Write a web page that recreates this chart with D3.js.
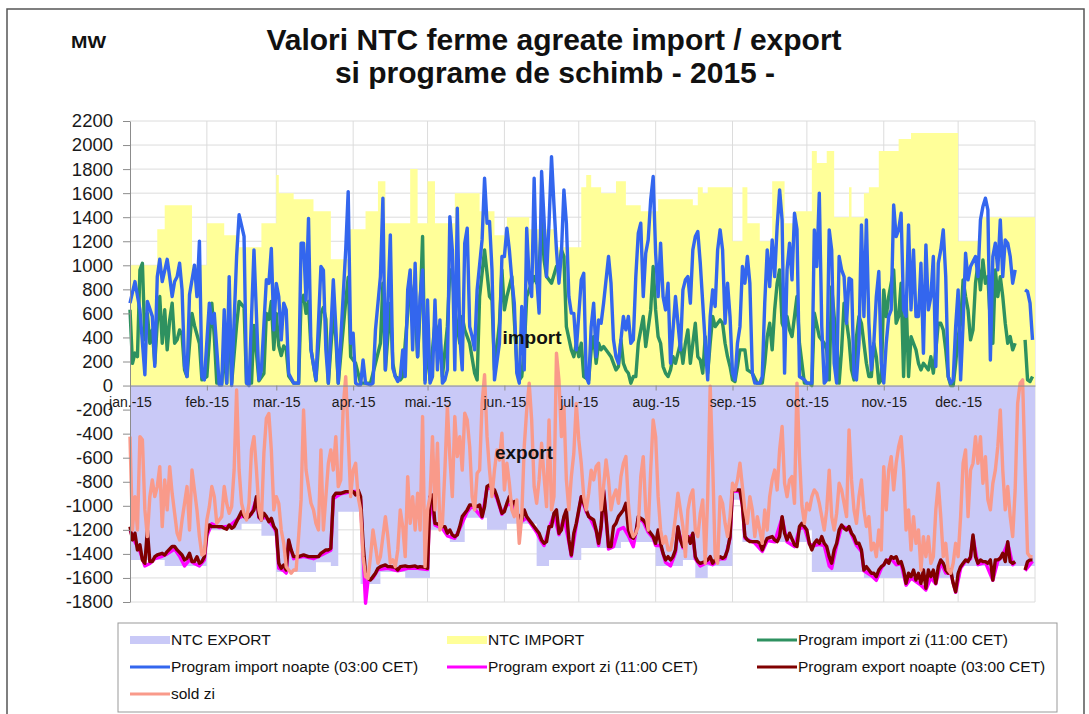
<!DOCTYPE html>
<html>
<head>
<meta charset="utf-8">
<script src="https://cdn.jsdelivr.net/npm/d3@7"></script>
<style>
body { margin: 0; background: #fff; }
text { font-family: "Liberation Sans", Arial, sans-serif; }
</style>
</head>
<body>
<div id="chart"></div>
<script>
// day index (0 = 1 jan 2015) and MW values

var monthLabels = ["jan.-15","feb.-15","mar.-15","apr.-15","mai.-15","jun.-15","jul.-15","aug.-15","sep.-15","oct.-15","nov.-15","dec.-15"];
var yTicks = d3.range(-1800, 2201, 200);

// NTC steps: [first day, MW], each value holds until the next step
var ntcImport = [[0,1000],[11,1300],[14,1500],[25,1000],[31,1350],[38,1250],[43,1150],[53,1350],[59,1750],[60,1600],[66,1550],[74,1450],[81,1050],[88,1300],[95,1450],[100,1700],[103,1350],[113,1800],[116,1350],[120,1700],[123,1350],[131,1600],[141,1450],[147,1250],[152,1400],[161,1300],[172,1150],[182,1650],[184,1750],[186,1650],[190,1600],[196,1700],[200,1500],[206,1450],[213,1550],[227,1500],[229,1650],[231,1600],[233,1650],[243,1200],[247,1650],[249,1350],[254,1200],[259,1700],[264,1350],[268,1450],[275,1950],[277,1850],[281,1950],[284,1400],[290,1650],[291,1400],[296,1600],[298,1650],[302,1950],[310,2050],[315,2100],[334,1200],[343,1400]];
var ntcExport = [[0,-1450],[14,-1500],[31,-1200],[45,-1150],[53,-1250],[59,-1550],[75,-1470],[81,-1500],[84,-1050],[93,-1650],[101,-1550],[111,-1600],[121,-1200],[129,-1300],[135,-1100],[144,-1200],[152,-1150],[164,-1500],[169,-1450],[182,-1350],[198,-1300],[212,-1500],[223,-1450],[228,-1600],[233,-1500],[243,-950],[247,-1300],[273,-1200],[275,-1550],[296,-1600],[335,-1500]];

// Program import zi (11:00 CET)
var importZi = [[0,630],[1,185],[2,270],[3,240],[4,960],[5,1017],[6,380],[7,600],[8,352],[9,463],[10,185],[11,518],[12,740],[13,352],[14,630],[15,297],[16,546],[17,685],[18,352],[19,380],[20,463],[21,420],[22,130],[23,75],[25,600],[26,500],[28,350],[29,47],[31,75],[33,685],[34,407],[35,20],[37,20],[38,300],[39,20],[40,600],[41,20],[43,500],[44,700],[46,650],[47,20],[49,20],[50,500],[52,40],[54,100],[55,600],[56,550],[57,700],[58,300],[59,600],[60,330],[61,250],[62,330],[63,300],[64,80],[66,20],[68,20],[69,700],[70,750],[71,600],[72,700],[73,300],[75,40],[77,600],[78,650],[79,550],[80,20],[82,600],[83,400],[84,20],[85,250],[87,700],[88,900],[89,240],[91,185],[93,20],[97,20],[99,185],[101,352],[102,851],[103,130],[105,685],[106,185],[107,75],[109,47],[110,75],[111,352],[113,851],[114,740],[115,629],[116,240],[117,629],[118,1239],[119,47],[120,352],[121,47],[122,297],[123,518],[125,407],[126,75],[128,490],[129,962],[130,962],[131,629],[133,352],[134,574],[135,463],[137,352],[139,103],[140,47],[141,740],[143,1128],[144,934],[145,740],[146,712],[147,130],[149,518],[150,962],[151,629],[152,740],[154,906],[156,185],[157,47],[158,75],[159,297],[160,740],[161,796],[163,906],[164,851],[165,962],[166,1378],[167,1045],[168,906],[170,851],[172,990],[173,962],[174,1128],[175,1073],[176,490],[178,297],[179,240],[180,352],[181,240],[182,352],[183,75],[185,47],[186,297],[187,407],[188,185],[189,352],[190,297],[191,324],[193,269],[194,240],[195,185],[196,130],[197,158],[198,380],[199,185],[200,130],[201,103],[202,20],[203,75],[204,75],[205,352],[207,574],[208,324],[210,629],[211,990],[212,629],[213,407],[214,352],[215,158],[216,103],[217,75],[218,130],[219,240],[220,185],[222,352],[223,185],[224,352],[225,463],[226,185],[227,352],[228,518],[229,240],[230,213],[231,103],[232,407],[233,103],[234,352],[235,574],[236,490],[237,518],[238,546],[239,518],[240,352],[241,240],[242,158],[243,47],[244,33],[245,158],[246,297],[248,297],[249,130],[251,103],[253,20],[255,20],[256,185],[257,407],[258,518],[259,297],[260,629],[261,851],[262,962],[263,518],[264,463],[265,574],[266,463],[267,407],[269,740],[270,352],[272,20],[274,20],[275,0],[276,602],[278,407],[280,352],[281,297],[282,47],[283,823],[284,574],[285,352],[286,20],[287,297],[288,685],[290,380],[291,130],[292,47],[293,407],[294,574],[295,518],[296,352],[297,185],[298,75],[299,75],[300,352],[301,240],[302,20],[303,47],[304,796],[305,574],[306,740],[308,962],[309,518],[310,574],[311,851],[312,75],[313,740],[314,75],[315,407],[316,352],[317,297],[318,185],[319,130],[320,185],[321,158],[322,130],[323,240],[324,103],[325,297],[326,518],[327,518],[328,463],[329,297],[330,75],[331,0],[332,0],[333,185],[334,407],[335,518],[336,879],[337,740],[338,629],[339,380],[340,463],[341,851],[342,1017],[343,796],[344,1045],[345,851],[346,906],[347,518],[348,352],[349,962],[350,740],[351,906],[352,740],[353,518],[354,352],[355,407],[356,297],[357,352],[358,null],[361,380],[362,47],[363,33],[364,75]];

// Program import noapte (03:00 CET)
var importNoapte = [[0,685],[2,865],[4,630],[6,90],[7,700],[9,575],[10,160],[11,905],[12,1050],[13,865],[15,1050],[16,905],[17,740],[18,865],[19,905],[20,1017],[21,796],[22,160],[23,75],[24,755],[26,1000],[27,740],[28,1200],[29,75],[30,47],[32,685],[33,518],[34,600],[36,5],[37,5],[38,630],[39,20],[40,906],[41,0],[43,1073],[44,1420],[46,1240],[47,20],[48,0],[50,1128],[52,47],[53,130],[55,880],[56,850],[57,1140],[58,463],[59,850],[60,740],[61,380],[62,685],[63,630],[64,100],[66,20],[68,20],[69,1184],[70,1184],[71,710],[72,1390],[73,297],[75,47],[77,990],[78,960],[79,297],[80,20],[82,880],[83,490],[84,20],[85,380],[87,1128],[88,1613],[89,352],[90,435],[91,20],[92,5],[93,5],[94,213],[95,20],[97,5],[98,20],[99,463],[101,906],[102,1558],[103,130],[105,1253],[106,144],[107,75],[108,33],[109,75],[110,297],[111,75],[112,796],[113,962],[114,297],[115,1017],[116,240],[117,740],[118,962],[119,20],[120,712],[121,20],[122,75],[123,712],[124,130],[125,546],[126,20],[127,47],[128,130],[129,1405],[130,1128],[131,130],[132,1475],[133,407],[134,130],[135,1184],[136,1308],[137,490],[138,407],[139,297],[140,796],[142,1211],[143,1724],[144,1350],[145,1364],[146,962],[147,47],[149,352],[150,1073],[151,1073],[152,1308],[153,1128],[154,879],[155,685],[156,103],[157,20],[158,657],[159,130],[160,1308],[161,879],[162,740],[163,1724],[164,906],[165,602],[166,1780],[167,1378],[168,906],[169,1350],[170,1904],[171,1500],[172,1128],[173,851],[174,1100],[175,1627],[176,1350],[177,740],[178,602],[179,600],[180,297],[182,879],[183,934],[184,75],[185,20],[186,490],[187,685],[188,240],[189,546],[190,518],[191,685],[193,1073],[194,851],[195,380],[196,240],[197,185],[198,380],[199,574],[200,463],[201,574],[202,352],[203,380],[204,906],[205,1267],[206,1350],[207,740],[208,1100],[209,1211],[210,1544],[211,1738],[212,1100],[213,740],[214,1184],[215,740],[216,629],[217,851],[218,185],[220,740],[222,297],[223,796],[224,879],[225,906],[226,685],[227,1128],[228,1239],[229,1280],[230,1017],[231,685],[232,352],[233,47],[234,574],[235,796],[236,657],[237,1128],[238,1295],[239,1128],[240,518],[241,851],[242,574],[243,103],[244,47],[245,352],[246,490],[247,990],[248,851],[249,1073],[250,851],[251,103],[252,20],[254,20],[255,75],[256,685],[257,1128],[258,823],[259,1211],[260,906],[261,1322],[262,1627],[263,1378],[264,103],[265,962],[266,1184],[267,879],[268,1433],[269,1300],[270,75],[272,47],[273,20],[275,20],[276,1295],[277,990],[278,1600],[279,490],[280,20],[281,47],[282,1295],[283,1128],[284,185],[285,20],[286,1073],[287,962],[288,906],[289,518],[290,893],[291,879],[292,75],[293,47],[294,352],[295,1336],[296,574],[297,1378],[298,518],[299,130],[300,352],[301,740],[302,948],[303,185],[304,20],[305,352],[306,574],[307,629],[308,1502],[309,1239],[310,1295],[311,1433],[312,629],[313,574],[314,1336],[315,629],[316,1128],[317,574],[318,574],[319,1017],[320,269],[321,1170],[322,629],[323,740],[324,1073],[325,158],[326,1017],[327,1128],[328,1295],[329,906],[330,75],[331,20],[332,47],[333,490],[334,796],[335,47],[336,518],[337,1100],[338,879],[339,990],[341,1073],[342,906],[343,1378],[344,1489],[345,1558],[346,1461],[347,213],[348,1073],[349,1184],[350,962],[351,1378],[352,906],[353,1211],[354,1184],[355,1073],[356,851],[357,962],[358,null],[361,796],[362,782],[363,685],[364,380]];

// Program export zi (11:00 CET)
var exportZi = [[0,-1200],[2,-1300],[4,-1380],[6,-1500],[8,-1480],[10,-1440],[13,-1420],[15,-1400],[18,-1360],[20,-1420],[22,-1500],[24,-1450],[26,-1480],[28,-1500],[30,-1450],[31,-1250],[33,-1150],[36,-1180],[40,-1170],[44,-1100],[46,-1080],[49,-1070],[51,-940],[52,-1100],[55,-1100],[58,-1180],[59,-1220],[60,-1520],[62,-1540],[63,-1560],[64,-1300],[66,-1440],[70,-1420],[74,-1440],[77,-1410],[80,-1380],[81,-1370],[82,-940],[85,-900],[90,-880],[92,-880],[93,-950],[94,-1400],[95,-1810],[96,-1620],[98,-1600],[100,-1530],[104,-1520],[108,-1540],[112,-1520],[116,-1520],[120,-1530],[121,-930],[123,-1160],[126,-1190],[128,-1250],[131,-1270],[133,-1190],[136,-1050],[138,-1000],[142,-1100],[144,-850],[146,-860],[148,-940],[150,-1070],[152,-990],[154,-990],[156,-1070],[158,-1130],[160,-1100],[162,-1160],[164,-1220],[166,-1300],[167,-1330],[169,-1190],[171,-1070],[173,-1240],[175,-1100],[177,-1300],[178,-1420],[180,-1160],[182,-930],[184,-1050],[186,-1120],[188,-1210],[189,-1330],[190,-1190],[191,-880],[192,-1100],[193,-1360],[195,-1340],[197,-1200],[199,-1180],[201,-1250],[203,-1340],[205,-1110],[207,-1130],[209,-1220],[211,-1270],[212,-1330],[214,-1330],[216,-1470],[218,-1500],[220,-1390],[221,-1190],[223,-1350],[225,-1270],[227,-1240],[228,-1440],[230,-1500],[233,-1470],[235,-1490],[238,-1440],[240,-1440],[242,-1270],[243,-880],[246,-880],[247,-1000],[248,-1270],[252,-1310],[255,-1380],[257,-1290],[260,-1300],[263,-1100],[265,-1300],[268,-1340],[270,-1190],[272,-1180],[274,-1320],[276,-1330],[278,-1320],[280,-1330],[282,-1500],[283,-1520],[285,-1330],[287,-1170],[290,-1190],[293,-1330],[295,-1380],[296,-1540],[299,-1580],[301,-1620],[303,-1520],[305,-1460],[307,-1440],[309,-1490],[311,-1480],[313,-1660],[315,-1600],[317,-1630],[319,-1660],[321,-1700],[323,-1600],[325,-1650],[327,-1470],[329,-1560],[331,-1560],[333,-1720],[335,-1520],[337,-1460],[339,-1440],[340,-1260],[342,-1490],[345,-1470],[348,-1620],[350,-1460],[352,-1410],[354,-1310],[356,-1490],[357,-1470],[358,null],[361,-1540],[364,-1460]];

// Program export noapte (03:00 CET)
var exportNoapte = [[0,-1173],[1,-1284],[2,-1228],[3,-1367],[4,-1325],[5,-1450],[6,-1478],[7,-1201],[8,-1464],[9,-1464],[10,-1423],[11,-1409],[13,-1395],[14,-1409],[15,-1381],[17,-1339],[18,-1339],[19,-1367],[21,-1409],[22,-1450],[23,-1437],[24,-1395],[25,-1464],[26,-1464],[27,-1423],[28,-1478],[29,-1464],[30,-1423],[31,-1228],[32,-1159],[33,-1173],[35,-1173],[37,-1173],[38,-1187],[39,-1195],[40,-1159],[41,-1187],[42,-1173],[44,-1090],[45,-1048],[46,-1090],[47,-1104],[48,-1090],[49,-1062],[50,-1034],[51,-924],[52,-1090],[53,-1118],[54,-1062],[55,-1090],[56,-1132],[57,-1104],[58,-1173],[59,-1201],[60,-1478],[61,-1520],[62,-1492],[63,-1534],[64,-1284],[65,-1367],[66,-1423],[68,-1423],[70,-1409],[72,-1423],[74,-1423],[76,-1423],[77,-1395],[79,-1367],[80,-1367],[81,-1353],[82,-924],[83,-896],[85,-896],[87,-882],[90,-882],[91,-910],[92,-868],[93,-924],[94,-1312],[95,-1561],[96,-1603],[97,-1617],[98,-1589],[99,-1561],[100,-1520],[101,-1506],[103,-1492],[104,-1506],[105,-1506],[107,-1511],[108,-1534],[109,-1506],[111,-1500],[112,-1506],[113,-1506],[115,-1500],[116,-1511],[117,-1506],[119,-1511],[120,-1520],[121,-924],[122,-910],[123,-1146],[124,-1151],[125,-1159],[126,-1173],[127,-1173],[128,-1228],[129,-1201],[130,-1242],[131,-1256],[132,-1242],[133,-1173],[134,-1090],[136,-1034],[137,-993],[138,-993],[140,-1007],[141,-993],[142,-1090],[143,-1007],[144,-840],[145,-827],[146,-854],[147,-868],[148,-924],[150,-1062],[151,-1048],[152,-979],[153,-924],[154,-979],[155,-965],[156,-1062],[157,-1090],[158,-1118],[159,-1034],[160,-1090],[161,-1118],[162,-1146],[164,-1201],[165,-1228],[166,-1284],[167,-1312],[168,-1298],[169,-1173],[170,-1173],[171,-1062],[172,-1034],[173,-1228],[174,-1201],[175,-1090],[176,-1034],[177,-1284],[178,-1409],[179,-1228],[180,-1146],[181,-1034],[182,-924],[183,-979],[184,-1034],[185,-1090],[187,-1118],[188,-1201],[189,-1312],[190,-1173],[191,-868],[192,-1090],[193,-1339],[194,-1339],[195,-1173],[196,-1146],[197,-1090],[199,-1034],[200,-979],[201,-1201],[202,-1256],[203,-1270],[204,-1228],[205,-1090],[207,-1118],[208,-1146],[209,-1201],[211,-1256],[212,-1312],[213,-1201],[214,-1312],[215,-1395],[216,-1450],[217,-1423],[218,-1450],[219,-1423],[220,-1367],[221,-1173],[222,-1284],[223,-1339],[225,-1256],[226,-1312],[227,-1228],[228,-1423],[229,-1464],[230,-1478],[232,-1464],[233,-1450],[234,-1423],[235,-1478],[236,-1450],[237,-1436],[238,-1423],[239,-1436],[240,-1423],[241,-1367],[242,-1256],[243,-868],[245,-868],[246,-868],[247,-993],[248,-1256],[249,-1284],[250,-1298],[252,-1298],[253,-1298],[254,-1312],[255,-1367],[256,-1312],[257,-1270],[259,-1256],[260,-1284],[261,-1298],[262,-1256],[263,-1090],[264,-1228],[265,-1284],[266,-1228],[268,-1325],[269,-1339],[270,-1173],[271,-1146],[272,-1173],[273,-1201],[274,-1312],[275,-1367],[276,-1312],[277,-1284],[278,-1312],[279,-1256],[280,-1312],[281,-1339],[282,-1423],[283,-1478],[284,-1367],[285,-1312],[286,-1201],[287,-1159],[288,-1187],[289,-1201],[290,-1173],[291,-1228],[292,-1256],[293,-1312],[294,-1312],[295,-1367],[296,-1534],[297,-1506],[298,-1534],[299,-1561],[300,-1561],[301,-1589],[302,-1534],[303,-1506],[304,-1492],[305,-1450],[306,-1478],[307,-1423],[308,-1436],[309,-1423],[310,-1478],[311,-1464],[312,-1534],[313,-1645],[314,-1561],[315,-1589],[316,-1534],[317,-1617],[318,-1561],[319,-1645],[320,-1534],[321,-1686],[322,-1534],[323,-1589],[324,-1534],[325,-1645],[326,-1506],[327,-1450],[328,-1478],[329,-1534],[330,-1561],[331,-1534],[332,-1645],[333,-1714],[334,-1561],[335,-1506],[336,-1478],[337,-1450],[338,-1464],[339,-1423],[340,-1242],[341,-1423],[342,-1478],[343,-1450],[344,-1464],[345,-1464],[346,-1478],[347,-1450],[348,-1617],[349,-1450],[350,-1450],[351,-1436],[352,-1395],[353,-1464],[354,-1298],[355,-1464],[356,-1478],[357,-1464],[358,null],[361,-1534],[362,-1464],[363,-1450],[364,-1450]];

// sold zi
var soldZi = [[0,-425],[1,-1201],[2,-924],[3,-1201],[4,-425],[5,-452],[6,-1034],[7,-1256],[8,-924],[9,-785],[10,-924],[11,-840],[12,-674],[13,-1173],[14,-785],[15,-1034],[16,-674],[17,-896],[18,-1062],[19,-1228],[20,-1284],[21,-1118],[23,-840],[24,-1201],[25,-702],[26,-868],[27,-1034],[28,-1256],[29,-1409],[30,-1395],[31,-1118],[32,-1007],[33,-840],[34,-924],[35,-1146],[36,-1118],[37,-1090],[38,-840],[39,-979],[40,-1062],[41,-1007],[42,-702],[43,-37],[44,-702],[45,-979],[46,-1062],[47,-1118],[48,-979],[49,-535],[50,-425],[51,-702],[52,-1034],[53,-1118],[54,-563],[55,-272],[56,-232],[57,-535],[58,-1034],[59,-924],[60,-979],[61,-1201],[62,-1312],[63,-1506],[64,-1534],[65,-1561],[66,-1534],[67,-1534],[68,-1256],[69,-951],[70,-203],[71,-702],[72,-840],[73,-979],[74,-1034],[75,-1146],[76,-1201],[77,-535],[78,-1201],[79,-924],[80,-646],[81,-535],[82,-702],[83,-425],[84,-840],[85,-785],[86,-175],[87,74],[88,-425],[89,-924],[90,-702],[91,-646],[92,-924],[93,-1034],[94,-1423],[95,-1589],[96,-1603],[97,-1423],[98,-1201],[99,-1339],[100,-1478],[101,-1423],[102,-1256],[103,-1090],[104,-1256],[105,-1478],[106,-1450],[107,-1506],[108,-1367],[109,-1034],[110,-1173],[111,-1423],[112,-757],[113,-1146],[114,-924],[115,-1201],[116,-896],[117,-1201],[118,-258],[119,-1506],[120,-1034],[121,-924],[122,-425],[123,-1034],[124,-480],[125,-1201],[126,-1146],[127,-703],[128,-175],[129,-591],[130,-924],[131,-258],[132,-591],[133,-425],[134,-703],[135,-230],[136,-286],[137,-508],[138,-924],[139,-1034],[140,-730],[141,-703],[142,-148],[143,90],[144,-425],[145,-703],[146,-924],[147,-703],[148,-535],[149,-619],[150,-397],[151,-868],[152,-646],[153,-813],[154,-1034],[155,-1090],[156,-951],[157,-1312],[158,-1090],[159,-508],[160,-203],[161,19],[162,-286],[163,-840],[164,-979],[165,-785],[166,-480],[167,-757],[168,-1007],[169,-286],[170,-1034],[171,-924],[172,270],[173,47],[174,-425],[175,-175],[176,-785],[177,-1034],[178,-757],[179,-563],[180,-148],[181,-452],[182,-646],[183,-924],[184,-1034],[185,-896],[186,-703],[187,-785],[188,-674],[189,-646],[190,-1034],[191,-840],[192,-619],[193,-785],[194,-1034],[195,-924],[196,-868],[197,-979],[198,-757],[199,-646],[200,-591],[201,-979],[202,-1201],[203,-1256],[204,-1228],[205,-1173],[206,-757],[207,-591],[208,-1034],[209,-1201],[210,-703],[211,-286],[212,-425],[213,-924],[214,-1201],[215,-1312],[216,-1256],[217,-1367],[218,-1367],[219,-1256],[220,-1090],[221,-896],[222,-1034],[223,-1173],[224,-1423],[225,-1034],[226,-924],[227,-868],[228,-1201],[229,-1256],[230,-1062],[231,-951],[232,-1478],[233,-924],[234,-5],[235,-646],[236,-1423],[237,-1478],[238,-924],[239,-979],[240,-1146],[241,-1256],[242,-1090],[243,-813],[244,-868],[245,-785],[246,-646],[247,-840],[248,-1034],[249,-1146],[250,-924],[251,-1034],[252,-1256],[253,-1090],[254,-1201],[255,-1312],[256,-1034],[257,-1201],[258,-924],[259,-785],[260,-703],[261,-868],[262,-535],[263,-341],[264,-813],[265,-924],[266,-785],[267,-757],[268,-979],[269,20],[270,-591],[271,-1000],[272,-1146],[273,-979],[274,-1034],[275,-924],[276,-868],[277,-896],[278,-979],[279,-1090],[280,-1201],[281,-1034],[282,-703],[283,-1090],[284,-1201],[285,-1062],[286,-813],[287,-868],[288,-979],[289,-1090],[290,-369],[291,-785],[292,-1034],[293,-1146],[294,-924],[295,-785],[296,-1034],[297,-1173],[298,-1090],[299,-1367],[300,-1312],[301,-1423],[302,-1201],[303,-1367],[304,-674],[305,-1034],[306,-703],[307,-591],[308,-868],[309,-646],[310,-508],[311,-425],[312,-703],[313,-1201],[314,-1034],[315,-1367],[316,-1090],[317,-1312],[318,-1201],[319,-1534],[320,-1256],[321,-1423],[322,-1256],[323,-1478],[324,-1423],[325,-1034],[326,-813],[327,-1090],[328,-1423],[329,-1312],[330,-1534],[331,-1561],[332,-1478],[333,-1312],[334,-1423],[335,-1090],[336,-646],[337,-535],[338,-1090],[339,-703],[340,-646],[341,-425],[342,-646],[343,-425],[344,-813],[345,-591],[346,-951],[347,-1034],[348,-813],[349,-703],[350,-508],[351,-203],[352,-703],[353,-1034],[354,-840],[355,-1090],[356,-1256],[357,-868],[358,-148],[359,19],[360,47],[361,-703],[362,-1395],[363,-1423],[364,-1423]];

var legendItems = [
    {name: "NTC EXPORT", type: "area", color: "#c9c9f7"},
    {name: "NTC IMPORT", type: "area", color: "#ffff99"},
    {name: "Program import zi (11:00 CET)", type: "line", color: "#2e9160"},
    {name: "Program import noapte (03:00 CET)", type: "line", color: "#3366ee"},
    {name: "Program export zi (11:00 CET)", type: "line", color: "#ff00ff"},
    {name: "Program export noapte (03:00 CET)", type: "line", color: "#800000"},
    {name: "sold zi", type: "line", color: "#f99a8a"}
];

var width = 1089, height = 714;
var start = new Date(2015, 0, 1);
function dayDate(d) { return d3.timeDay.offset(start, d); }

var x = d3.scaleTime().domain([start, new Date(2016, 0, 1)]).range([130, 1035]);
var y = d3.scaleLinear().domain([-1800, 2200]).range([602, 121]);

var svg = d3.select("#chart").append("svg")
    .attr("width", width)
    .attr("height", height);

svg.append("rect").attr("width", width).attr("height", height).attr("fill", "white");
// outer frame
svg.append("rect").attr("x", 7).attr("y", 9).attr("width", 1077).attr("height", 720)
    .attr("fill", "none").attr("stroke", "#555").attr("stroke-width", 1.5);

// title
svg.append("text").attr("x", 554).attr("y", 50).attr("text-anchor", "middle")
    .attr("font-size", 30).attr("font-weight", "bold").attr("fill", "#111")
    .text("Valori NTC ferme agreate import / export");
svg.append("text").attr("x", 555).attr("y", 83).attr("text-anchor", "middle")
    .attr("font-size", 30).attr("font-weight", "bold").attr("fill", "#111")
    .text("si programe de schimb - 2015 -");
svg.append("text").attr("x", 71).attr("y", 48)
    .attr("font-size", 16).attr("font-weight", "bold").attr("fill", "#111")
    .attr("textLength", 35).attr("lengthAdjust", "spacingAndGlyphs")
    .text("MW");

var monthDates = d3.timeMonth.range(start, new Date(2016, 0, 2));

// grid
var grid = svg.append("g");
grid.selectAll("line.h").data(yTicks).enter().append("line")
    .attr("x1", 130).attr("x2", 1035)
    .attr("y1", d => y(d)).attr("y2", d => y(d))
    .attr("stroke", "#dcdcdc");
grid.selectAll("line.v").data(monthDates.slice(1)).enter().append("line")
    .attr("x1", d => x(d)).attr("x2", d => x(d))
    .attr("y1", y(2200)).attr("y2", y(-1800))
    .attr("stroke", "#dcdcdc");

// NTC areas
function stepPoints(steps) {
    var pts = steps.slice();
    pts.push([365, steps[steps.length - 1][1]]);
    return pts;
}
var area = d3.area().curve(d3.curveStepAfter)
    .x(d => x(dayDate(d[0])))
    .y0(y(0))
    .y1(d => y(d[1]));

svg.append("path").attr("d", area(stepPoints(ntcExport))).attr("fill", legendItems[0].color);
svg.append("path").attr("d", area(stepPoints(ntcImport))).attr("fill", legendItems[1].color);

// lines
var line = d3.line()
    .defined(d => d[1] != null)
    .x(d => x(dayDate(d[0])))
    .y(d => y(d[1]));

var series = [importZi, importNoapte, exportZi, exportNoapte, soldZi];
series.forEach(function(s, i) {
    svg.append("path").attr("d", line(s))
        .attr("fill", "none")
        .attr("stroke", legendItems[i + 2].color)
        .attr("stroke-width", 3.4)
        .attr("stroke-linejoin", "round");
});

// axes
var yAxis = svg.append("g").attr("transform", "translate(130,0)")
    .call(d3.axisLeft(y).tickValues(yTicks).tickSize(7).tickSizeOuter(0).tickPadding(10).tickFormat(d => String(d)));
yAxis.selectAll("text").attr("font-size", 18.5).attr("fill", "#1a1a1a")
    .style("font-family", "'Liberation Sans', Arial, sans-serif");
yAxis.selectAll("line").attr("stroke", "#8c8c8c");
yAxis.select(".domain").attr("stroke", "#8c8c8c");

var xAxis = svg.append("g").attr("transform", "translate(0," + y(0) + ")")
    .call(d3.axisBottom(x).tickValues(monthDates.slice(0, 12)).tickSize(5).tickSizeOuter(0).tickPadding(7)
        .tickFormat((d, i) => monthLabels[i]));
xAxis.selectAll("text").attr("font-size", 14).attr("fill", "#1a1a1a")
    .style("font-family", "'Liberation Sans', Arial, sans-serif");
xAxis.selectAll("line").attr("stroke", "#8c8c8c");
xAxis.select(".domain").attr("stroke", "#8c8c8c");

// in-chart labels
svg.append("text").attr("x", 532).attr("y", 344).attr("text-anchor", "middle")
    .attr("font-size", 19).attr("font-weight", "bold").attr("fill", "#111").text("import");
svg.append("text").attr("x", 524).attr("y", 459).attr("text-anchor", "middle")
    .attr("font-size", 19).attr("font-weight", "bold").attr("fill", "#111").text("export");

// legend
var legend = svg.append("g");
legend.append("rect").attr("x", 118).attr("y", 623).attr("width", 939).attr("height", 89)
    .attr("fill", "white").attr("stroke", "#999");
var colX = [130, 447, 757], rowY = [640, 667, 694];
legendItems.forEach(function(it, i) {
    var lx = colX[i % 3], ly = rowY[Math.floor(i / 3)];
    var g = legend.append("g").attr("transform", "translate(" + lx + "," + ly + ")");
    if (it.type == "area") {
        g.append("rect").attr("x", 0).attr("y", -4).attr("width", 40).attr("height", 8).attr("fill", it.color);
    } else {
        g.append("line").attr("x1", 0).attr("x2", 40).attr("stroke", it.color).attr("stroke-width", 3);
    }
    g.append("text").attr("x", 41).attr("y", 5).attr("font-size", 15.5).attr("fill", "#111").text(it.name);
});
</script>
</body>
</html>
